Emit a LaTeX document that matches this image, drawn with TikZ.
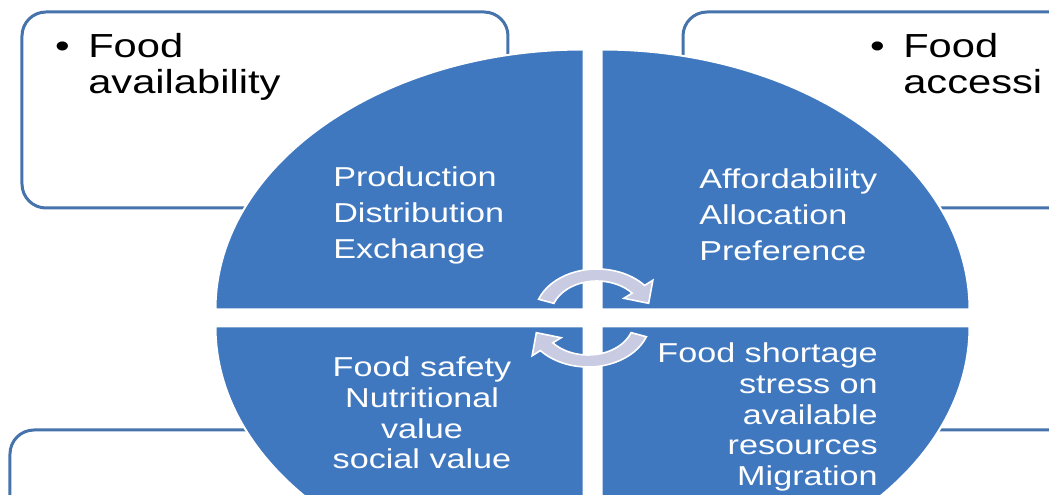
\documentclass[tikz,border=0pt]{standalone}
\usepackage{fontspec}
\newfontfamily\widesans{Liberation Sans}[FakeStretch=1.25]
\usepackage{tikz}
\usetikzlibrary{positioning}

\definecolor{quadblue}{RGB}{64,120,191}
\definecolor{boxblue}{RGB}{70,115,172}
\definecolor{arrowgray}{RGB}{200,203,225}

\begin{document}
\begin{tikzpicture}[x=0.75pt, y=0.75pt,
  quad/.style={fill=quadblue, draw=white, line width=1.5pt},
  boxline/.style={draw=boxblue, line width=2.25pt, rounded corners=18pt},
  cyclearrow/.style={fill=arrowgray, draw=white, line width=1.2pt},
  quadtext/.style={text=white, inner sep=0pt, font=\widesans\fontsize{20.5pt}{27pt}\selectfont},
  boxtext/.style={text=black, inner sep=0pt, align=left, font=\widesans\fontsize{25pt}{27pt}\selectfont}]
\useasboundingbox (-592, -177) rectangle (457, 318);
\clip (-592, -177) rectangle (457, 318);

% frames behind the disc
\draw [boxline] (-570, 306) rectangle (-84, 110);
\draw [boxline] (91, 306) rectangle (577, 110);
\draw [boxline] (-582, -112) rectangle (-96, -308);
\draw [boxline] (96, -112) rectangle (582, -308);

% the four quarters
\draw [quad] (-8.5, 8.5) -- (-8.5, 268.5) arc [start angle=90, end angle=180, x radius=368, y radius=260] -- cycle;
\draw [quad] (9.5, 8.5) -- (377.5, 8.5) arc [start angle=0, end angle=90, x radius=368, y radius=260] -- cycle;
\draw [quad] (-8.5, -8.5) -- (-376.5, -8.5) arc [start angle=180, end angle=270, x radius=368, y radius=260] -- cycle;
\draw [quad] (9.5, -8.5) -- (9.5, -268.5) arc [start angle=270, end angle=360, x radius=368, y radius=260] -- cycle;

% cycle arrows in the middle
\begin{scope}[shift={(5,3)}, xscale=1.35]
\draw [cyclearrow] (160:46) arc [start angle=160, end angle=40, radius=46] -- (40:54) -- (17:40) -- (40:26) -- (40:34) arc [start angle=40, end angle=160, radius=34] -- cycle;
\end{scope}
\begin{scope}[shift={(-4,-3)}, xscale=1.35]
\draw [cyclearrow] (-20:46) arc [start angle=-20, end angle=-140, radius=46] -- (-140:54) -- (-163:40) -- (-140:26) -- (-140:34) arc [start angle=-140, end angle=-20, radius=34] -- cycle;
\end{scope}

\node [boxtext, anchor=north west] (avail) at (-504, 285) {\llap{\textbullet\hspace{14pt}}Food\\availability};
\node [boxtext, anchor=north west] (access) at (311, 285) {\llap{\textbullet\hspace{14pt}}Food\\accessi};

\node [quadtext, anchor=west, align=left] (prod) at (-259, 103) {Production\\Distribution\\Exchange};
\node [quadtext, anchor=west, align=left] (afford) at (107, 103) {Affordability\\Allocation\\Preference};
\node [quadtext, align=center, font=\widesans\fontsize{20.5pt}{23pt}\selectfont] (safety) at (-170, -95) {Food safety\\Nutritional\\value\\social value};
\node [quadtext, anchor=east, align=right, font=\widesans\fontsize{20.5pt}{23pt}\selectfont] (shortage) at (286, -99) {Food shortage\\stress on\\available\\resources\\Migration};
\end{tikzpicture}
\end{document}
